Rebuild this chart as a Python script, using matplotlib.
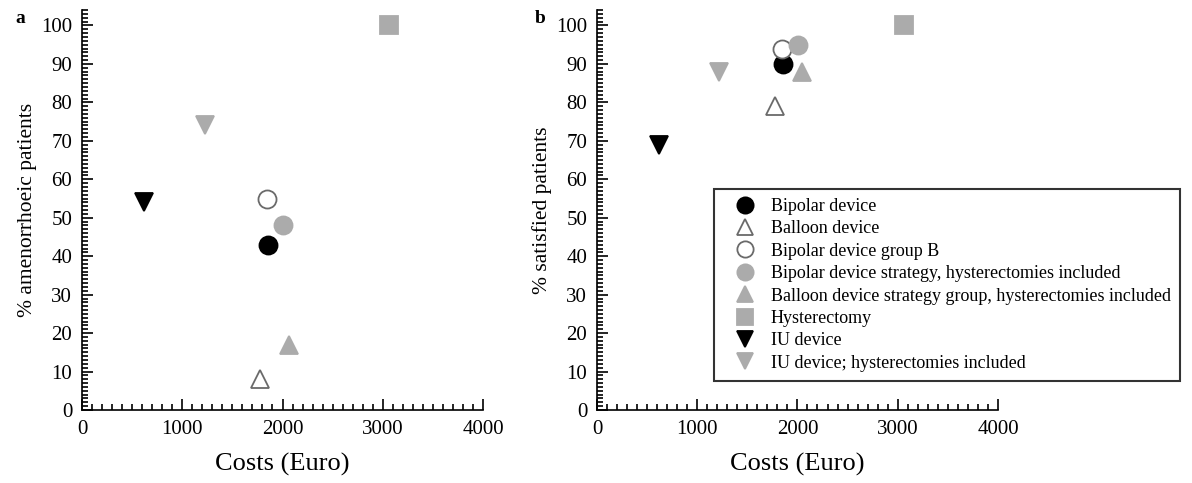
import matplotlib
matplotlib.use('Agg')
import matplotlib.pyplot as plt
from matplotlib.ticker import MultipleLocator

plt.rcParams['font.family'] = ['Liberation Serif', 'DejaVu Serif']

labels = ['Bipolar device', 'Balloon device', 'Bipolar device group B',
          'Bipolar device strategy, hysterectomies included',
          'Balloon device strategy group, hysterectomies included',
          'Hysterectomy', 'IU device', 'IU device; hysterectomies included']

# costs (Euro) and outcomes
cost_a = [1860, 1775, 1845, 2000, 2060, 3065, 615, 1225]
amenorrhoea = [43, 8, 55, 48, 17, 100, 54, 74]

cost_b = [1860, 1775, 1845, 2005, 2050, 3060, 615, 1220]
satisfied = [90, 79, 94, 95, 88, 100, 69, 88]

grey = '#ababab'
edge_open = '#6a6a6a'
styles = [
    dict(marker='o', mfc='black', mec='black'),
    dict(marker='^', mfc='white', mec=edge_open),
    dict(marker='o', mfc='white', mec=edge_open),
    dict(marker='o', mfc=grey, mec=grey),
    dict(marker='^', mfc=grey, mec=grey),
    dict(marker='s', mfc=grey, mec=grey),
    dict(marker='v', mfc='black', mec='black'),
    dict(marker='v', mfc=grey, mec=grey),
]

fig = plt.figure(figsize=(11.92, 4.83), dpi=100)
ax1 = fig.add_axes([0.0688, 0.1511, 0.3364, 0.828])
ax2 = fig.add_axes([0.5008, 0.1511, 0.3364, 0.828])


def draw(ax, xs, ys, ylabel):
    handles = []
    for x, y, lab, st in zip(xs, ys, labels, styles):
        h, = ax.plot([x], [y], linestyle='none', markersize=13,
                     markeredgewidth=1.3, label=lab, clip_on=False, **st)
        handles.append(h)
    ax.set_xlim(0, 4000)
    ax.set_ylim(0, 104)
    ax.xaxis.set_major_locator(MultipleLocator(1000))
    ax.xaxis.set_minor_locator(MultipleLocator(100))
    ax.yaxis.set_major_locator(MultipleLocator(10))
    ax.yaxis.set_minor_locator(MultipleLocator(1))
    ax.tick_params(which='both', direction='in', width=1.2, labelsize=15,
                   top=False, right=False)
    ax.tick_params(which='major', length=8, pad=7)
    ax.tick_params(which='minor', length=4)
    for s in ['top', 'right']:
        ax.spines[s].set_visible(False)
    for s in ['left', 'bottom']:
        ax.spines[s].set_linewidth(1.2)
    ax.set_xlabel('Costs (Euro)', fontsize=19, labelpad=10)
    ax.set_ylabel(ylabel, fontsize=15.5, labelpad=3)
    return handles


draw(ax1, cost_a, amenorrhoea, '% amenorrhoeic patients')
hs = draw(ax2, cost_b, satisfied, '% satisfied patients')

fig.text(0.013, 0.962, 'a', fontsize=14, fontweight='bold', va='center')
fig.text(0.449, 0.962, 'b', fontsize=14, fontweight='bold', va='center')

leg = ax2.legend(handles=hs, loc='upper left', bbox_to_anchor=(0.599, 0.609),
                 bbox_transform=fig.transFigure, borderaxespad=0,
                 fontsize=13, frameon=True, fancybox=False,
                 handletextpad=0.25, labelspacing=0.3, markerscale=0.9,
                 borderpad=0.5, handlelength=2.4)
leg.get_frame().set_edgecolor('black')
leg.get_frame().set_linewidth(1.5)

fig.savefig('out.png', dpi=100)
